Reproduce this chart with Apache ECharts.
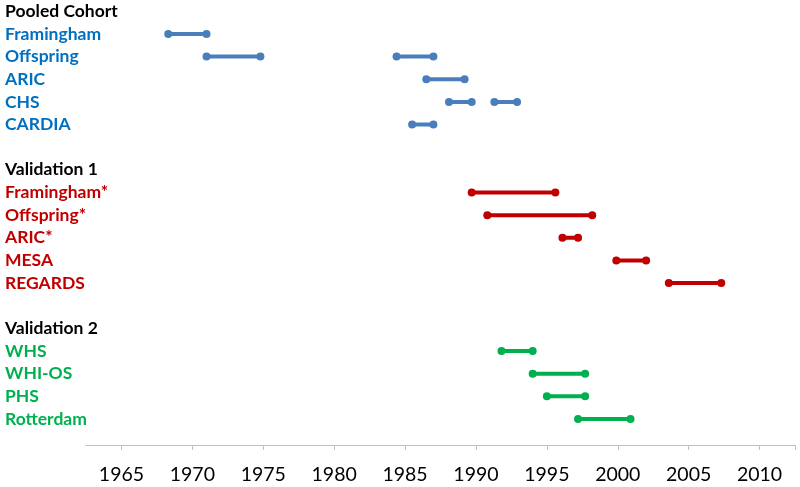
<!DOCTYPE html>
<html>
<head>
<meta charset="utf-8">
<script src="https://cdn.jsdelivr.net/npm/echarts@6/dist/echarts.min.js"></script>
<style>
  html, body { margin: 0; padding: 0; background: #fff; }
  #chart { width: 800px; height: 487px; }
</style>
</head>
<body>
<div id="chart"></div>
<script>
// 行标签（空字符串为空行）
var rowLabels = ['Pooled Cohort', 'Framingham', 'Offspring', 'ARIC', 'CHS', 'CARDIA', '',
    'Validation 1', 'Framingham*', 'Offspring*', 'ARIC*', 'MESA', 'REGARDS', '',
    'Validation 2', 'WHS', 'WHI-OS', 'PHS', 'Rotterdam'];
var rowGroups = ['head', 'pooled', 'pooled', 'pooled', 'pooled', 'pooled', 'head',
    'head', 'val1', 'val1', 'val1', 'val1', 'val1', 'head',
    'head', 'val2', 'val2', 'val2', 'val2'];

// 各队列的起止年份
var pooledRows  = ['Framingham', 'Offspring', 'Offspring', 'ARIC', 'CHS', 'CHS', 'CARDIA'];
var pooledStart = [1968.3, 1971.0, 1984.4, 1986.5, 1988.1, 1991.3, 1985.5];
var pooledEnd   = [1971.0, 1974.8, 1987.0, 1989.2, 1989.7, 1992.9, 1987.0];

var val1Rows  = ['Framingham*', 'Offspring*', 'ARIC*', 'MESA', 'REGARDS'];
var val1Start = [1989.7, 1990.8, 1996.1, 1999.9, 2003.6];
var val1End   = [1995.6, 1998.2, 1997.2, 2002.0, 2007.3];

var val2Rows  = ['WHS', 'WHI-OS', 'PHS', 'Rotterdam'];
var val2Start = [1991.8, 1994.0, 1995.0, 1997.2];
var val2End   = [1994.0, 1997.7, 1997.7, 2000.9];

// x 轴刻度
var tickYears = [1965, 1970, 1975, 1980, 1985, 1990, 1995, 2000, 2005, 2010];

(function () {
    var myChart = echarts.init(document.getElementById('chart'));

    var lineColor = { pooled: '#4a7ebb', val1: '#c00000', val2: '#00b050' };
    var textColor = { head: '#000000', pooled: '#0070c0', val1: '#c00000', val2: '#00b050' };

    var series = [];
    function addSegments(rows, starts, ends, color) {
        for (var i = 0; i < rows.length; i++) {
            series.push({
                type: 'line',
                data: [[starts[i], rows[i]], [ends[i], rows[i]]],
                symbol: 'circle',
                symbolSize: 8,
                lineStyle: { color: color, width: 4 },
                itemStyle: { color: color },
                silent: true,
                animation: false
            });
        }
    }
    addSegments(pooledRows, pooledStart, pooledEnd, lineColor.pooled);
    addSegments(val1Rows, val1Start, val1End, lineColor.val1);
    addSegments(val2Rows, val2Start, val2End, lineColor.val2);

    // 每组标签的颜色
    var rich = {};
    Object.keys(textColor).forEach(function (k) {
        rich[k] = {
            color: textColor[k],
            fontFamily: 'Lato',
            fontWeight: 'bold',
            fontSize: 17.5
        };
    });

    var option = {
        animation: false,
        grid: {
            left: 86,
            right: 5,
            top: -0.3,
            bottom: 56.7
        },
        xAxis: {
            type: 'value',
            min: 1962.5,
            max: 2012.5,
            offset: 14.7,
            splitLine: { show: false },
            axisLine: { show: true, lineStyle: { color: '#bfbfbf', width: 1 } },
            axisTick: {
                show: true,
                length: 5,
                customValues: tickYears.concat([2012.5]),
                lineStyle: { color: '#bfbfbf' }
            },
            axisLabel: {
                customValues: tickYears,
                formatter: function (v) { return String(v); },
                color: '#000',
                fontFamily: 'Lato',
                fontSize: 19.5,
                margin: 20
            }
        },
        yAxis: {
            type: 'category',
            inverse: true,
            data: rowLabels,
            axisLine: { show: false },
            axisTick: { show: false },
            axisLabel: {
                align: 'left',
                margin: 81,
                interval: 0,
                formatter: function (value, idx) {
                    if (!value) return '';
                    return '{' + rowGroups[idx] + '|' + value + '}';
                },
                rich: rich
            }
        },
        series: series
    };

    myChart.setOption(option);
    window.addEventListener('resize', function () {
        myChart.resize();
    });
})();
</script>
</body>
</html>
